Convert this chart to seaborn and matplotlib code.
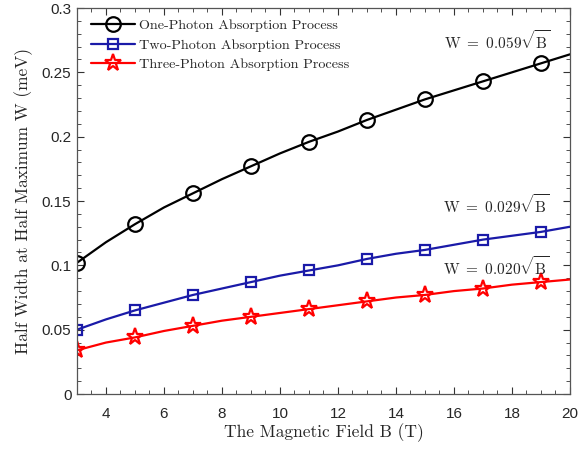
import matplotlib
matplotlib.use("Agg")
import matplotlib.pyplot as plt
from matplotlib.lines import Line2D
from matplotlib.ticker import MultipleLocator
import seaborn as sns
import pandas as pd

# Curve samples (B in tesla, W in meV)
b_line = [3, 4, 5, 6, 7, 8, 9, 10, 11, 12, 13, 14, 15, 16, 17, 18, 19, 20]
w_one = [0.102, 0.118, 0.132, 0.145, 0.156, 0.167, 0.177, 0.187, 0.196,
         0.204, 0.213, 0.221, 0.229, 0.236, 0.243, 0.250, 0.257, 0.264]
w_two = [0.050, 0.058, 0.065, 0.071, 0.077, 0.082, 0.087, 0.092, 0.096,
         0.100, 0.105, 0.109, 0.112, 0.116, 0.120, 0.123, 0.126, 0.130]
w_three = [0.034, 0.040, 0.044, 0.049, 0.053, 0.057, 0.060, 0.063, 0.066,
           0.069, 0.072, 0.075, 0.077, 0.080, 0.082, 0.085, 0.087, 0.089]

# Marker positions
b_mark = [3, 5, 7, 9, 11, 13, 15, 17, 19]

labels = ["One-Photon Absorption Process",
          "Two-Photon Absorption Process",
          "Three-Photon Absorption Process"]
formulas = [r"$\mathrm{W}\ =\ 0.059\sqrt{\mathrm{B}}$",
            r"$\mathrm{W}\ =\ 0.029\sqrt{\mathrm{B}}$",
            r"$\mathrm{W}\ =\ 0.020\sqrt{\mathrm{B}}$"]

sns.set_theme(style="white")
plt.rcParams["mathtext.fontset"] = "cm"
plt.rcParams["font.family"] = ["Liberation Sans", "DejaVu Sans"]

colors = ["black", "#1a1aa8", "#ff0000"]
markers = ["o", "s", "*"]
msizes = [10.5, 7.5, 12.5]
series = [w_one, w_two, w_three]

fig = plt.figure(figsize=(5.85, 4.5), dpi=100)
ax = fig.add_axes([0.1316, 0.1244, 0.8427, 0.8578])

handles = []
for w, c, m, ms, lab in zip(series, colors, markers, msizes, labels):
    df = pd.DataFrame({"B": b_line, "W": w})
    sns.lineplot(data=df, x="B", y="W", color=c, lw=1.6, ax=ax, legend=False)
    dm = df[df["B"].isin(b_mark)]
    ax.plot(dm["B"], dm["W"], ls="none", marker=m, ms=ms, mfc="none",
            mec=c, mew=1.6)
    handles.append(Line2D([], [], color=c, lw=1.6, marker=m, ms=ms,
                          mfc="none", mec=c, mew=1.6, label=lab))

ax.set_xlim(3, 20)
ax.set_ylim(0, 0.3)
ax.xaxis.set_minor_locator(MultipleLocator(0.5))
ax.yaxis.set_minor_locator(MultipleLocator(0.01))
ax.set_xticks([4, 6, 8, 10, 12, 14, 16, 18, 20])
ax.set_yticks([0, 0.05, 0.1, 0.15, 0.2, 0.25, 0.3])
ax.set_yticklabels(["0", "0.05", "0.1", "0.15", "0.2", "0.25", "0.3"])

ax.tick_params(which="both", direction="in", top=True, right=True,
               bottom=True, left=True, colors="#333333", labelcolor="#262626",
               labelsize=11)
ax.tick_params(which="major", length=5, width=0.8)
ax.tick_params(which="minor", length=3, width=0.6)
ax.tick_params(axis="x", which="major", pad=9)
ax.tick_params(axis="y", which="major", pad=4)
for s in ax.spines.values():
    s.set_color("#555555")
    s.set_linewidth(0.9)

ax.set_xlabel("The Magnetic Field B (T)", family="cmr10", fontsize=12.5,
              color="#262626", labelpad=2)
ax.set_ylabel("Half Width at Half Maximum W (meV)", family="cmr10",
              fontsize=12.5, color="#262626", labelpad=6)

ax.text(17.5, 0.275, formulas[0], ha="center", va="center", fontsize=11)
ax.text(17.45, 0.147, formulas[1], ha="center", va="center", fontsize=11)
ax.text(17.45, 0.099, formulas[2], ha="center", va="center", fontsize=11)

leg = ax.legend(handles=handles, loc="upper left", frameon=False,
                prop={"family": "cmr10", "size": 10.2}, handlelength=3.1,
                borderaxespad=0.4, labelspacing=0.45, handletextpad=0.3,
                bbox_to_anchor=(0.005, 1.0))

fig.savefig("out.png", dpi=100)
